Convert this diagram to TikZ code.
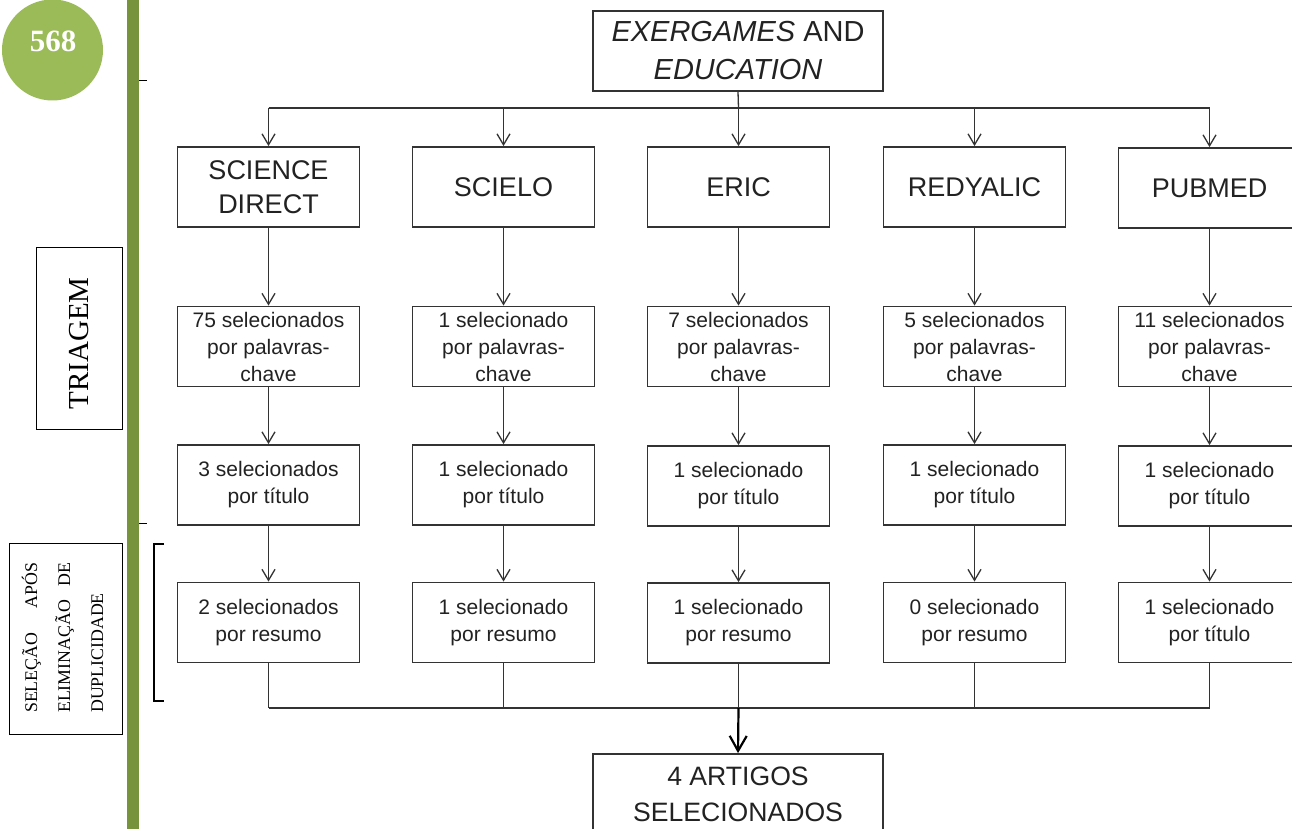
\documentclass[tikz,border=0pt]{standalone}
\usepackage{fontspec}
\setmainfont{Liberation Sans}
\newfontfamily\serifx{Liberation Serif}
\usetikzlibrary{arrows.meta}
\definecolor{cgreen}{HTML}{9BBB59}
\definecolor{bgreen}{HTML}{77933C}
\definecolor{ink}{HTML}{222222}
\definecolor{edge}{HTML}{333333}
\begin{document}
\begin{tikzpicture}[x=1pt,y=-1pt,
  box/.style={draw=edge,line width=1.8pt,minimum width=182pt,minimum height=80pt,inner sep=0pt,align=center,text=ink},
  dbbox/.style={box,font=\fontsize{27}{34}\selectfont},
  smbox/.style={box,font=\fontsize{21}{27}\selectfont},
  bigbox/.style={box,minimum width=290pt},
  link/.style={draw=edge,line width=1.3pt},
  arr/.style={link,-{Straight Barb[length=11pt,width=13pt]}},
  sidebox/.style={draw=black,line width=1pt,inner sep=0pt},
  sidetext/.style={font=\serifx\fontsize{17.8}{17.8}\selectfont,rotate=90,anchor=base west,inner sep=0pt}]

\clip (0,0) rectangle (1292,829);
\fill[white] (0,0) rectangle (1292,829);

% left margin decoration
\fill[bgreen] (127,0) rectangle (139,829);
\node[circle,fill=cgreen,minimum size=101pt,inner sep=0pt] (pg) at (52.5,50) {};
\node[text=white,font=\serifx\bfseries\fontsize{31}{31}\selectfont] (pgnum) at (53,41) {568};
\draw[black,line width=1pt] (139,81) -- (147,81) (139,523) -- (147,523);

\node[sidebox,minimum width=86pt,minimum height=182pt] (tribox) at (79,338) {};
\node[rotate=90,font=\serifx\fontsize{29}{29}\selectfont] (tri) at (79,343.5) {TRIAGEM};

\node[sidebox,minimum width=113pt,minimum height=191pt] (selbox) at (65.5,638.5) {};
\node[sidetext] (sel1) at (37,713) {\makebox[150pt][s]{SELEÇÃO APÓS}};
\node[sidetext] (sel2) at (70,713) {\makebox[150pt][s]{ELIMINAÇÃO DE}};
\node[sidetext] (sel3) at (103,713) {DUPLICIDADE};
\draw[black,line width=1.3pt] (164,544) -- (154,544) -- (154,701) -- (164,701);

% main flow
\node[bigbox,font=\fontsize{29}{38}\selectfont] (src) at (738,51) {\textit{EXERGAMES} AND\\\textit{EDUCATION}};

\node[dbbox] (sd) at (268.5,187) {SCIENCE\\DIRECT};
\node[dbbox] (sc) at (503.5,187) {SCIELO};
\node[dbbox] (er) at (738.5,187) {ERIC};
\node[dbbox] (re) at (974.5,187) {REDYALIC};
\node[dbbox] (pm) at (1209.5,188) {PUBMED};

\node[smbox] (sd1) at (268.5,346.5) {75 selecionados\\por palavras-\\chave};
\node[smbox] (sc1) at (503.5,346.5) {1 selecionado\\por palavras-\\chave};
\node[smbox] (er1) at (738.5,346.5) {7 selecionados\\por palavras-\\chave};
\node[smbox] (re1) at (974.5,346.5) {5 selecionados\\por palavras-\\chave};
\node[smbox] (pm1) at (1209.5,346.5) {11 selecionados\\por palavras-\\chave};

\node[smbox] (sd2) at (268.5,485) {3 selecionados\\por título};
\node[smbox] (sc2) at (503.5,485) {1 selecionado\\por título};
\node[smbox] (er2) at (738.5,486) {1 selecionado\\por título};
\node[smbox] (re2) at (974.5,485) {1 selecionado\\por título};
\node[smbox] (pm2) at (1209.5,486) {1 selecionado\\por título};

\node[smbox] (sd3) at (268.5,622.5) {2 selecionados\\por resumo};
\node[smbox] (sc3) at (503.5,622.5) {1 selecionado\\por resumo};
\node[smbox] (er3) at (738.5,623) {1 selecionado\\por resumo};
\node[smbox] (re3) at (974.5,622.5) {0 selecionado\\por resumo};
\node[smbox] (pm3) at (1209.5,622.5) {1 selecionado\\por título};

\node[bigbox,font=\fontsize{26.6}{36}\selectfont] (fin) at (738,794) {4 ARTIGOS\\SELECIONADOS};

% connectors
\coordinate (hubT) at (738.5,108);
\draw[link] (src.south) -- (hubT);
\draw[link] (hubT -| sd.north) -- (hubT -| pm.north);
\foreach \n in {sd,sc,er,re,pm} {
  \draw[arr] (hubT -| \n.north) -- (\n.north);
  \draw[arr] (\n.south) -- (\n1.north);
  \draw[arr] (\n1.south) -- (\n2.north);
  \draw[arr] (\n2.south) -- (\n3.north);
}
\coordinate (hubB) at (738.5,708);
\foreach \n in {sd3,sc3,er3,re3,pm3} {
  \draw[link] (\n.south) -- (hubB -| \n.south);
}
\draw[link] (hubB -| sd3.south) -- (hubB -| pm3.south);
\draw[draw=black,line width=2.2pt,-{Straight Barb[length=15pt,width=17pt]}] (hubB) -- (fin.north);
\end{tikzpicture}
\end{document}
